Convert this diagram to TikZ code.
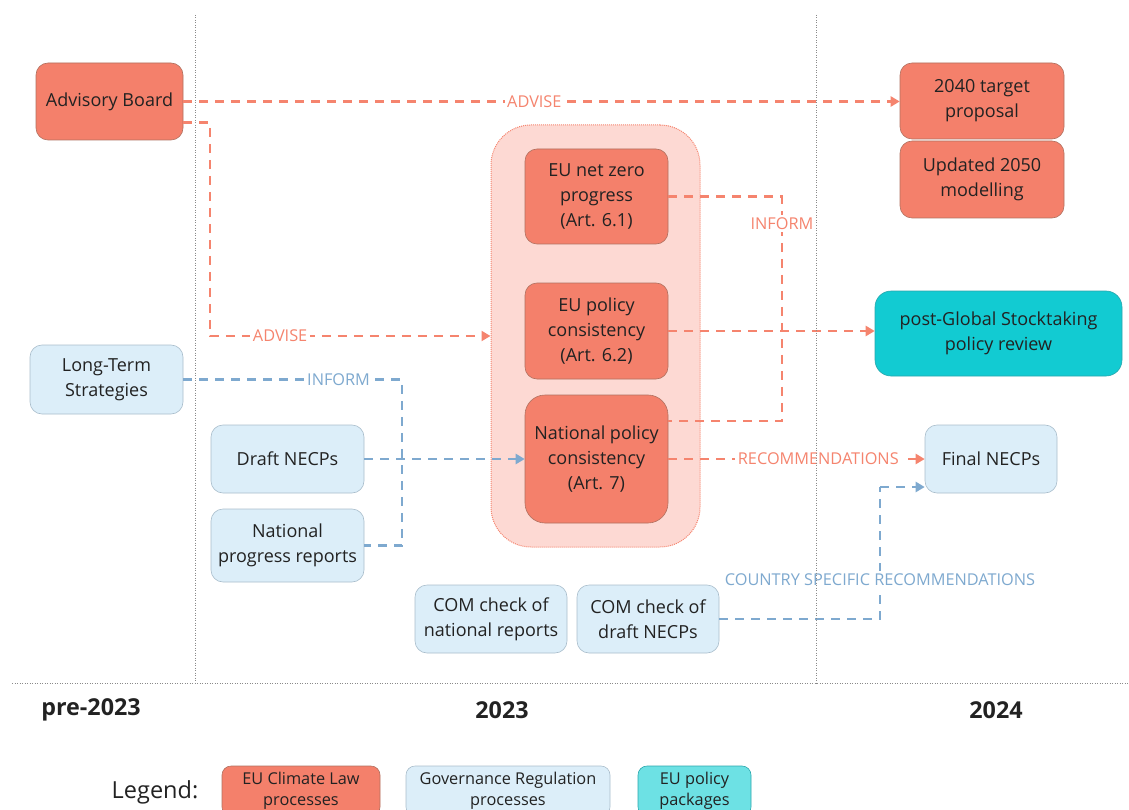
\documentclass[tikz,border=0pt]{standalone}
\usepackage{fontspec}
\setmainfont{Open Sans}
\usetikzlibrary{arrows.meta}
\definecolor{salm}{HTML}{F4806B}
\definecolor{salmline}{HTML}{F5846E}
\definecolor{salmbd}{HTML}{B0705F}
\definecolor{lblue}{HTML}{DCEEF9}
\definecolor{bluebd}{HTML}{A9BDCB}
\definecolor{blueline}{HTML}{7EA9CF}
\definecolor{tealbox}{HTML}{12CBD2}
\definecolor{tealbd}{HTML}{2AA6AC}
\definecolor{lteal}{HTML}{6DE1E4}
\definecolor{grpfill}{HTML}{FDD9D3}
\definecolor{txt}{HTML}{222222}
\definecolor{gridc}{HTML}{8A8A8A}
\begin{document}
\begin{tikzpicture}[x=1pt,y=-1pt,
  box/.style={rounded corners=12pt, draw, line width=0.6pt, align=center, text=txt,
    font=\fontsize{18}{25}\selectfont, inner sep=0pt},
  ebox/.style={box, fill=salm, draw=salmbd},
  gbox/.style={box, fill=lblue, draw=bluebd},
  pbox/.style={box, fill=tealbox, draw=tealbd, rounded corners=16pt},
  lgbox/.style={rounded corners=9pt, draw, line width=0.6pt, align=center, text=txt,
    font=\fontsize{16.3}{21}\selectfont, inner sep=0pt, minimum height=50pt},
  sline/.style={draw=salmline, line width=2.4pt, dash pattern=on 9pt off 7pt},
  bline/.style={draw=blueline, line width=2.4pt, dash pattern=on 9pt off 7pt},
  tip/.style={-{Triangle[length=9pt,width=10pt]}},
  slbl/.style={fill=white, text=salmline, font=\fontsize{16.3}{18}\selectfont, inner sep=2.5pt},
  blbl/.style={fill=white, text=blueline, font=\fontsize{16.3}{18}\selectfont, inner sep=2.5pt},
  year/.style={font=\fontsize{23.3}{26}\selectfont\bfseries, text=txt},
  gridline/.style={draw=gridc, line width=1pt, dash pattern=on 1pt off 1.5pt}
]
\useasboundingbox (0,0) rectangle (1129,810);

% group container
\node[rounded corners=40pt, fill=grpfill, draw=salmline, line width=1pt,
  dash pattern=on 1pt off 1pt, minimum width=209pt, minimum height=422pt, inner sep=0pt]
  (grp) at (595.5,336) {};

% nodes
\node[ebox, minimum width=147pt, minimum height=77pt] (adv) at (109.5,101.5) {Advisory Board};
\node[ebox, minimum width=164pt, minimum height=76pt] (t2040) at (982,101) {2040 target\\proposal};
\node[ebox, minimum width=164pt, minimum height=77pt] (u2050) at (982,179.5) {Updated 2050\\modelling};
\node[ebox, minimum width=143pt, minimum height=95pt] (zero) at (596.5,196.5) {EU net zero\\progress\\(Art. 6.1)};
\node[ebox, minimum width=143pt, minimum height=96pt] (pol) at (596.5,331) {EU policy\\consistency\\(Art. 6.2)};
\node[ebox, minimum width=143pt, minimum height=128pt, rounded corners=20pt] (nat) at (596.5,459) {National policy\\consistency\\(Art. 7)};
\node[pbox, minimum width=247pt, minimum height=85pt] (gst) at (998.5,333.5) {post-Global Stocktaking\\policy review};
\node[gbox, minimum width=153pt, minimum height=69pt] (lts) at (106.5,379.5) {Long-Term\\Strategies};
\node[gbox, minimum width=153pt, minimum height=68pt] (dn) at (287.5,459) {Draft NECPs};
\node[gbox, minimum width=153pt, minimum height=73pt] (npr) at (287.5,545.5) {National\\progress reports};
\node[gbox, minimum width=152pt, minimum height=68pt] (cnr) at (491,619) {COM check of\\national reports};
\node[gbox, minimum width=142pt, minimum height=68pt] (cdn) at (648,619) {COM check of\\draft NECPs};
\node[gbox, minimum width=132pt, minimum height=68pt] (fin) at (991,459) {Final NECPs};

% bend coordinates
\coordinate (b1) at (402,0);
\coordinate (b2) at (880,0);
\coordinate (b3) at (782,0);
\coordinate (b4) at (210,0);
\coordinate (adv2) at ([yshift=-21pt]adv.east);
\coordinate (nat2) at ([yshift=38pt]nat.east);
\coordinate (fin2) at ([yshift=-28pt]fin.west);

% connectors
\draw[sline, tip] (adv.east) -- (adv.east -| t2040.west) node[slbl, pos=0.49] {ADVISE};
\draw[sline, tip] (adv2) -- (adv2 -| b4) |- (grp.west) node[slbl, pos=0.625] {ADVISE};
\draw[sline] (zero.east) -| (b3 |- nat2) node[slbl, pos=0.56] {INFORM} -- (nat2);
\draw[sline, tip] (pol.east) -- (pol.east -| gst.west);
\draw[bline] (lts.east) -- (lts.east -| b1) node[blbl, pos=0.71] {INFORM} |- (npr.east);
\draw[bline, tip] (dn.east) -- (dn.east -| nat.west);
\draw[sline, tip] (nat.east) -- (nat.east -| fin.west) node[slbl, pos=0.585] {RECOMMENDATIONS};
\draw[bline] (cdn.east) -| (b2 |- fin2) node[blbl, pos=0.65] {COUNTRY SPECIFIC RECOMMENDATIONS};
\draw[bline, tip] (b2 |- fin2) -- (fin2);

% timeline grid
\draw[gridline] (195,15) -- (195,683);
\draw[gridline] (816,15) -- (816,683);
\draw[gridline] (12,683) -- (1129,683);

% years
\node[year] (y1) at (91,710) {pre-2023};
\node[year] (y2) at (502,710) {2023};
\node[year] (y3) at (996,710) {2024};

% legend
\node[font=\fontsize{23.5}{27}\selectfont, text=txt] (leg) at (155,792) {Legend:};
\node[lgbox, fill=salm, draw=salmbd, minimum width=158pt] (lg1) at (301,791) {EU Climate Law\\processes};
\node[lgbox, fill=lblue, draw=bluebd, minimum width=204pt] (lg2) at (508,791) {Governance Regulation\\processes};
\node[lgbox, fill=lteal, draw=tealbd, minimum width=113pt] (lg3) at (694.5,791) {EU policy\\packages};
\end{tikzpicture}
\end{document}
